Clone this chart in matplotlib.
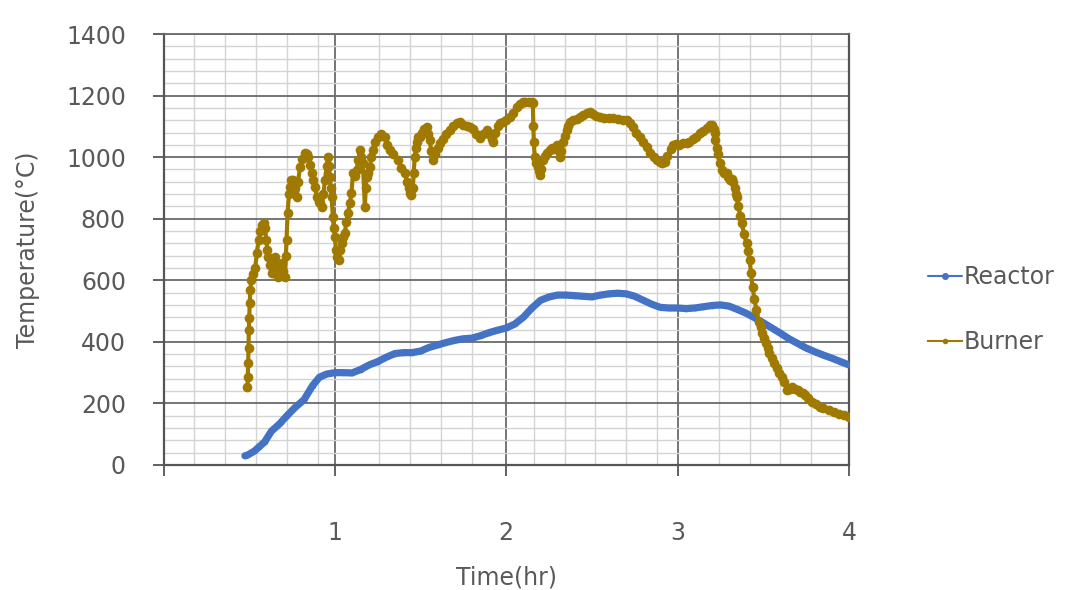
import matplotlib
matplotlib.use("Agg")
import matplotlib.pyplot as plt
from matplotlib.ticker import MultipleLocator, FixedLocator

plt.rcParams['font.family'] = ['DejaVu Sans']

# ---------------- data ----------------
reactor_time = [0.475, 0.49, 0.53, 0.56, 0.59, 0.63, 0.68, 0.72, 0.77, 0.82, 0.87, 0.91, 0.95,
                1.00, 1.05, 1.10, 1.15, 1.20, 1.25, 1.30, 1.35, 1.40, 1.45, 1.50, 1.55, 1.60,
                1.65, 1.70, 1.75, 1.80, 1.85, 1.90, 1.95, 2.00, 2.05, 2.10, 2.15, 2.20, 2.25,
                2.30, 2.35, 2.40, 2.45, 2.50, 2.55, 2.60, 2.65, 2.70, 2.75, 2.80, 2.85, 2.90,
                2.95, 3.00, 3.05, 3.10, 3.15, 3.20, 3.25, 3.30, 3.35, 3.40, 3.45, 3.50, 3.55,
                3.60, 3.65, 3.70, 3.75, 3.80, 3.85, 3.90, 3.95, 4.00]
reactor_temp = [30, 32, 45, 60, 75, 110, 135, 160, 188, 212, 258, 285, 295,
                300, 300, 299, 310, 325, 336, 350, 362, 365, 365, 370, 382, 390,
                398, 405, 410, 412, 420, 430, 438, 445, 458, 480, 510, 535, 546,
                552, 552, 550, 548, 546, 552, 556, 558, 556, 548, 535, 522, 512,
                510, 510, 508, 510, 514, 518, 520, 516, 505, 493, 478, 462, 445,
                428, 410, 395, 380, 368, 357, 347, 336, 325]

burner_time = [0.490, 0.492, 0.494, 0.496, 0.498, 0.500, 0.503, 0.507, 0.512, 0.520, 0.535, 0.545,
               0.555, 0.565, 0.575, 0.585, 0.592, 0.600, 0.606, 0.612, 0.620, 0.631, 0.640, 0.650,
               0.660, 0.668, 0.678, 0.689, 0.698, 0.708, 0.714, 0.718, 0.724, 0.732, 0.738, 0.746,
               0.755, 0.765, 0.777, 0.786, 0.796, 0.810, 0.825, 0.835, 0.843, 0.852, 0.864, 0.874,
               0.883, 0.895, 0.905, 0.913, 0.924, 0.933, 0.942, 0.952, 0.959, 0.966, 0.971, 0.976,
               0.981, 0.988, 0.994, 1.000, 1.006, 1.012, 1.023, 1.032, 1.039, 1.048, 1.058, 1.067,
               1.076, 1.087, 1.097, 1.105, 1.115, 1.127, 1.137, 1.146, 1.155, 1.163, 1.175, 1.180,
               1.185, 1.195, 1.204, 1.213, 1.222, 1.236, 1.251, 1.270, 1.292, 1.305, 1.321, 1.340,
               1.367, 1.388, 1.408, 1.420, 1.430, 1.437, 1.445, 1.455, 1.460, 1.466, 1.472, 1.478,
               1.487, 1.496, 1.510, 1.522, 1.536, 1.545, 1.554, 1.562, 1.571, 1.585, 1.600, 1.612,
               1.630, 1.650, 1.670, 1.690, 1.710, 1.729, 1.750, 1.770, 1.787, 1.805, 1.825, 1.845,
               1.865, 1.886, 1.900, 1.915, 1.921, 1.935, 1.950, 1.962, 1.980, 2.000, 2.020, 2.040,
               2.061, 2.080, 2.096, 2.110, 2.130, 2.150, 2.155, 2.158, 2.161, 2.166, 2.175, 2.184,
               2.190, 2.195, 2.205, 2.213, 2.225, 2.240, 2.254, 2.265, 2.280, 2.294, 2.305, 2.312,
               2.320, 2.329, 2.340, 2.353, 2.362, 2.370, 2.390, 2.410, 2.428, 2.450, 2.470, 2.487,
               2.505, 2.525, 2.545, 2.570, 2.600, 2.621, 2.650, 2.680, 2.703, 2.720, 2.738, 2.758,
               2.778, 2.800, 2.819, 2.840, 2.860, 2.880, 2.895, 2.910, 2.924, 2.940, 2.960, 2.971,
               2.990, 3.010, 3.030, 3.052, 3.069, 3.090, 3.110, 3.128, 3.150, 3.170, 3.186, 3.198,
               3.210, 3.216, 3.221, 3.227, 3.233, 3.245, 3.257, 3.270, 3.286, 3.295, 3.303, 3.315,
               3.325, 3.332, 3.338, 3.344, 3.355, 3.365, 3.373, 3.388, 3.402, 3.410, 3.420, 3.428,
               3.437, 3.448, 3.460, 3.475, 3.485, 3.495, 3.505, 3.515, 3.525, 3.536, 3.550, 3.565,
               3.580, 3.594, 3.607, 3.620, 3.641, 3.655, 3.670, 3.685, 3.700, 3.715, 3.729, 3.745,
               3.760, 3.787, 3.810, 3.830, 3.850, 3.886, 3.910, 3.940, 3.970, 4.000]
burner_temp = [254, 286, 331, 380, 438, 477, 526, 568, 600, 620, 640, 690,
               731, 760, 780, 786, 770, 731, 700, 676, 650, 624, 660, 676,
               640, 611, 640, 656, 630, 611, 680, 731, 818, 880, 903, 926,
               926, 900, 870, 920, 968, 995, 1013, 1010, 1000, 975, 948, 925,
               903, 870, 855, 851, 838, 880, 926, 970, 1000, 970, 935, 900,
               870, 805, 770, 741, 700, 676, 666, 700, 721, 740, 754, 790,
               818, 850, 883, 948, 940, 958, 990, 1023, 1000, 981, 838, 900,
               935, 950, 968, 1000, 1023, 1050, 1066, 1075, 1066, 1040, 1023, 1010,
               990, 965, 948, 920, 900, 883, 878, 900, 950, 1000, 1030, 1050,
               1066, 1066, 1080, 1090, 1098, 1075, 1056, 1020, 990, 1010, 1030, 1045,
               1060, 1075, 1088, 1100, 1110, 1114, 1105, 1100, 1098, 1090, 1075, 1062,
               1075, 1088, 1075, 1060, 1049, 1080, 1100, 1111, 1115, 1120, 1130, 1145,
               1163, 1172, 1179, 1178, 1180, 1179, 1175, 1100, 1049, 1000, 980, 968,
               955, 942, 960, 990, 1005, 1015, 1023, 1030, 1025, 1039, 1020, 1000,
               1020, 1049, 1070, 1088, 1100, 1114, 1120, 1125, 1130, 1138, 1145, 1147,
               1140, 1133, 1130, 1128, 1127, 1127, 1125, 1122, 1120, 1110, 1098, 1080,
               1066, 1050, 1033, 1015, 1000, 990, 985, 981, 985, 1005, 1025, 1039,
               1042, 1040, 1045, 1045, 1050, 1060, 1065, 1078, 1085, 1095, 1104, 1104,
               1090, 1078, 1056, 1030, 1010, 981, 958, 950, 948, 935, 926, 930,
               920, 900, 880, 870, 840, 810, 786, 750, 721, 695, 666, 625,
               578, 540, 503, 465, 447, 429, 412, 395, 380, 364, 347, 330,
               315, 299, 285, 270, 244, 248, 253, 248, 243, 238, 234, 226,
               218, 205, 197, 190, 185, 179, 173, 167, 161, 156]

series_names = ['Reactor', 'Burner']
x_tick_values = [0, 1, 2, 3, 4]
x_tick_labels = ['', '1', '2', '3', '4']
y_tick_values = [0, 200, 400, 600, 800, 1000, 1200, 1400]

# ---------------- style ----------------
blue = '#4472C4'
gold = '#A07A00'
text_grey = '#595959'
major_grid = '#6a6a6a'
minor_grid = '#d4d4d4'
fs = 17

fig = plt.figure(figsize=(10.67, 5.90), dpi=100)
ax = fig.add_axes([163.5 / 1067, 1 - 465 / 590, (849 - 163.5) / 1067, (465 - 34) / 590])

ax.plot(reactor_time, reactor_temp, color=blue, lw=5.2, marker='o', ms=3,
        solid_capstyle='round', label=series_names[0], zorder=3)
ax.plot(burner_time, burner_temp, color=gold, lw=3.0, marker='o', ms=7,
        markeredgewidth=0, label=series_names[1], zorder=4)

ax.set_xlim(0, 4)
ax.set_ylim(0, 1400)
ax.xaxis.set_major_locator(FixedLocator(x_tick_values))
ax.set_xticklabels(x_tick_labels)
ax.yaxis.set_major_locator(FixedLocator(y_tick_values))
minor_x = [k * 0.18 for k in range(1, 23) if abs(k * 0.18 - round(k * 0.18)) > 0.09]
ax.xaxis.set_minor_locator(FixedLocator(minor_x))
ax.yaxis.set_minor_locator(MultipleLocator(40))

ax.grid(which='major', color=major_grid, lw=1.3, zorder=1)
ax.grid(which='minor', color=minor_grid, lw=1.0, zorder=0)
ax.set_axisbelow(True)

for s in ['left', 'bottom', 'right']:
    ax.spines[s].set_color('#555555')
    ax.spines[s].set_linewidth(1.6)
ax.spines['top'].set_color(major_grid)
ax.spines['top'].set_linewidth(1.3)

ax.tick_params(axis='both', which='major', direction='out', length=8, width=1.3,
               color='#555555', labelcolor=text_grey, labelsize=fs)
ax.tick_params(axis='x', which='major', pad=32)
ax.tick_params(axis='y', which='major', pad=19)
ax.tick_params(which='minor', length=0)

fig.text(506 / 1067, 1 - 578 / 590, 'Time(hr)', ha='center', va='center',
         fontsize=fs, color=text_grey)
fig.text(28 / 1067, 1 - 250 / 590, 'Temperature(\u00b0C)', ha='center', va='center',
         rotation=90, fontsize=fs, color=text_grey)

leg = fig.legend(loc='center left', bbox_to_anchor=(928 / 1067, 1 - 309.5 / 590),
                 frameon=False, fontsize=fs, labelspacing=1.75, handlelength=1.45,
                 handletextpad=0.05, borderpad=0, borderaxespad=0)
for h in leg.legend_handles:
    h.set_linewidth(1.5)
    h.set_markersize(4)
for t in leg.get_texts():
    t.set_color(text_grey)

fig.savefig('out.png', dpi=100)
